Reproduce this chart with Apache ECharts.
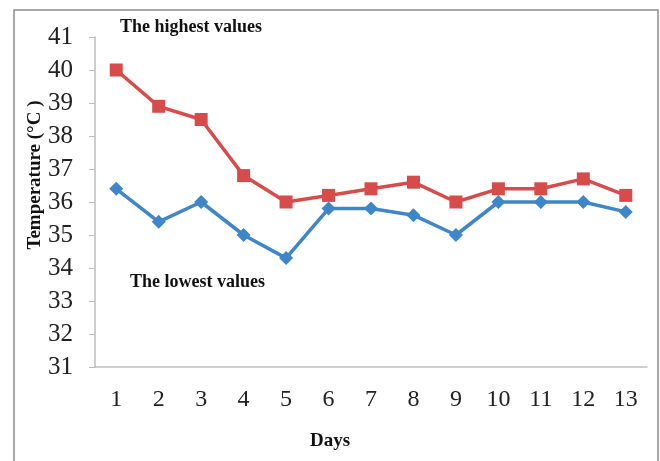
<!DOCTYPE html>
<html>
<head>
<meta charset="utf-8">
<script src="https://cdn.jsdelivr.net/npm/echarts@6/dist/echarts.min.js"></script>
<style>
  html, body { margin: 0; padding: 0; background: #fff; }
  #chart { width: 660px; height: 461px; }
</style>
</head>
<body>
<div id="chart"></div>
<script>
// days on the x axis
var days = ['1', '2', '3', '4', '5', '6', '7', '8', '9', '10', '11', '12', '13'];
// highest temperature per day
var highest = [40.0, 38.9, 38.5, 36.8, 36.0, 36.2, 36.4, 36.6, 36.0, 36.4, 36.4, 36.7, 36.2];
// lowest temperature per day
var lowest = [36.4, 35.4, 36.0, 35.0, 34.3, 35.8, 35.8, 35.6, 35.0, 36.0, 36.0, 36.0, 35.7];

var serif = 'Liberation Serif';

var myChart = echarts.init(document.getElementById('chart'));

var option = {
	backgroundColor: '#fff',
	animation: false,
	grid: { left: 95, right: 13, top: 37, bottom: 94 },
	graphic: [
		{ type: 'rect', shape: { x: 14, y: 10, width: 644, height: 460 },
		  style: { fill: 'none', stroke: '#8c8c8c', lineWidth: 1.5 } },
		{ type: 'text', left: 120, top: 18,
		  style: { text: 'The highest values', font: 'bold 18px "Liberation Serif"', fill: '#111' } },
		{ type: 'text', left: 130, top: 273,
		  style: { text: 'The lowest values', font: 'bold 18px "Liberation Serif"', fill: '#111' } },
		// axis titles
		{ type: 'text', x: 330, y: 441,
		  style: { text: 'Days', font: 'bold 19px "Liberation Serif"', fill: '#111',
		           align: 'center', verticalAlign: 'middle' } },
		{ type: 'text', x: 35, y: 175, rotation: Math.PI / 2,
		  style: { text: 'Temperature (°C )', font: 'bold 19px "Liberation Serif"', fill: '#111',
		           align: 'center', verticalAlign: 'middle' } }
	],
	xAxis: {
		type: 'category',
		data: days,
		boundaryGap: true,
		axisLine: { lineStyle: { color: '#bdbdbd', width: 1.5 } },
		axisTick: { show: false },
		axisLabel: { fontFamily: serif, fontSize: 24, color: '#222', margin: 21 },
		splitLine: { show: false }
	},
	yAxis: {
		type: 'value',
		min: 31,
		max: 41,
		interval: 1,
		axisLine: { show: true, lineStyle: { color: '#bdbdbd', width: 1.5 } },
		axisTick: { show: true, length: 6, lineStyle: { color: '#bdbdbd' } },
		axisLabel: { fontFamily: serif, fontSize: 25, color: '#222', margin: 22 },
		splitLine: { show: false }
	},
	series: [
		{
			name: 'The highest values',
			type: 'line',
			data: highest,
			symbol: 'rect',
			symbolSize: 13,
			lineStyle: { color: '#d84b4b', width: 3.5 },
			itemStyle: { color: '#d84b4b' }
		},
		{
			name: 'The lowest values',
			type: 'line',
			data: lowest,
			symbol: 'diamond',
			symbolSize: 14,
			lineStyle: { color: '#3f86c8', width: 3.5 },
			itemStyle: { color: '#3f86c8' }
		}
	]
};

myChart.setOption(option);
</script>
</body>
</html>
